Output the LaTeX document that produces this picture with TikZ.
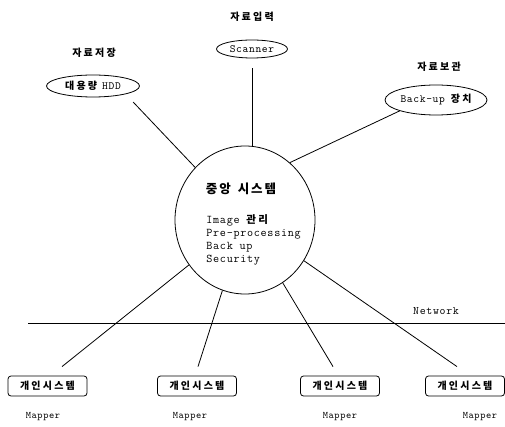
\documentclass[tikz,border=0pt]{standalone}
\usepackage{fontspec}
\usetikzlibrary{shapes.geometric,calc}
\newfontfamily\mono{Latin Modern Mono}[LetterSpace=6]
\newfontfamily\kr{Noto Sans CJK KR}[LetterSpace=22]
\newfontfamily\krt{Noto Sans CJK KR}[LetterSpace=15]
\begin{document}
\begin{tikzpicture}[x=1pt,y=-1pt,line width=0.8pt,
  oval/.style={draw,ellipse,inner sep=0pt,font=\fontsize{11}{12}\selectfont},
  pbox/.style={draw,rounded corners=3pt,minimum width=79pt,minimum height=20pt,inner sep=0pt,font=\kr\bfseries\fontsize{10}{12}\selectfont},
  lbl/.style={font=\kr\bfseries\fontsize{10}{12}\selectfont},
  mapper/.style={font=\mono\fontsize{10}{11}\selectfont},
  conn/.style={draw,line width=0.8pt}]
\useasboundingbox (0,0) rectangle (505,427);
% top labels and ellipses
\node[lbl] (l1) at (252,17) {자료입력};
\node[lbl] (l2) at (94,53) {자료저장};
\node[lbl] (l3) at (439,67) {자료보관};
\node[oval,minimum width=71pt,minimum height=18pt] (scanner) at (252,49) {\mono Scanner};
\node[oval,minimum width=93pt,minimum height=22pt] (hdd) at (93,86) {{\kr\bfseries\fontsize{10}{12}\selectfont 대용량}\hspace{5pt}{\mono HDD}};
\node[oval,minimum width=102pt,minimum height=30pt] (backup) at (436,100) {{\mono Back-up}\hspace{6pt}{\kr\bfseries\fontsize{10}{12}\selectfont 장치}};
% central system
\node[draw,ellipse,minimum width=140pt,minimum height=148pt] (c) at (245,220) {};
\node[font=\krt\bfseries\fontsize{12.5}{14}\selectfont] (title) at (241,189) {중앙\hspace{7pt}시스템};
\node[anchor=north west,align=left,inner sep=0pt,font=\mono\fontsize{11.8}{13}\selectfont] (func) at (206,214)
  {Image {\kr\bfseries\fontsize{10.5}{13}\selectfont 관리}\\Pre-processing\\Back up\\Security};
% network
\coordinate (netL) at (28,323);
\coordinate (netR) at (505,323);
\draw (netL) -- (netR);
\node[font=\mono\fontsize{11.5}{12}\selectfont] (net) at (436,311) {Network};
% personal systems
\node[pbox] (b1) at (47.5,386) {개인시스템};
\node[pbox] (b2) at (197,386) {개인시스템};
\node[pbox] (b3) at (340,386) {개인시스템};
\node[pbox] (b4) at (465,386) {개인시스템};
\node[mapper] (m1) at (43,417) {Mapper};
\node[mapper] (m2) at (190,417) {Mapper};
\node[mapper] (m3) at (340,417) {Mapper};
\node[mapper] (m4) at (480,417) {Mapper};
% connector ends
\coordinate (e1) at ($(b1.north)+(14.5,-9)$);
\coordinate (e2) at ($(b2.north)+(1,-9)$);
\coordinate (e3) at ($(b3.north)+(-7,-9)$);
\coordinate (e4) at ($(b4.north)+(-8,-9)$);
\coordinate (hddE) at ($(hdd.south east)+(7,8)$);
% connectors
\draw[shorten <=10pt] (scanner) -- (scanner |- c.north);
\draw (hddE) -- (c);
\draw (backup.south west) -- (c.52);
\draw (c) -- (e1);
\draw (c) -- (e2);
\draw (c) -- (e3);
\draw (c) -- (e4);
\end{tikzpicture}
\end{document}
